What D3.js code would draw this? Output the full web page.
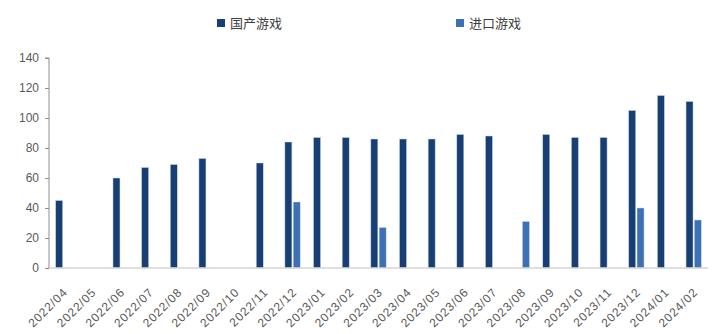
<!DOCTYPE html>
<html>
<head>
<meta charset="utf-8">
<script src="https://cdn.jsdelivr.net/npm/d3@7"></script>
<style>
  html, body { margin: 0; padding: 0; background: #fff; }
  svg { display: block; font-family: "Noto Sans CJK SC", "Liberation Sans", Arial, sans-serif; }
</style>
</head>
<body>
<svg id="chart" width="725" height="334"></svg>
<script>
// Monthly game approvals: domestic vs imported titles
const months = ["2022/04","2022/05","2022/06","2022/07","2022/08","2022/09","2022/10","2022/11","2022/12",
  "2023/01","2023/02","2023/03","2023/04","2023/05","2023/06","2023/07","2023/08","2023/09","2023/10",
  "2023/11","2023/12","2024/01","2024/02"];
const domestic = [45, 0, 60, 67, 69, 73, 0, 70, 84, 87, 87, 86, 86, 86, 89, 88, 0, 89, 87, 87, 105, 115, 111];
const imported = [0, 0, 0, 0, 0, 0, 0, 0, 44, 0, 0, 27, 0, 0, 0, 0, 31, 0, 0, 0, 40, 0, 32];
const seriesNames = ["国产游戏", "进口游戏"];
const yTicks = [0, 20, 40, 60, 80, 100, 120, 140];

const colors = ["#173f74", "#3d70b5"];
const svg = d3.select("#chart");
const margin = { left: 49, right: 17, top: 58, bottom: 66 };
const W = 725, H = 334;

const x = d3.scaleBand().domain(months).range([margin.left, W - margin.right]).paddingInner(0).paddingOuter(0);
const y = d3.scaleLinear().domain([0, 140]).range([H - margin.bottom, margin.top]);

const barW = 7, gap = 1.3;
const groupW = barW * 2 + gap;

const rows = months.map((m, i) => ({ m, vals: [domestic[i], imported[i]] }));

// bars
const g = svg.append("g");
rows.forEach(r => {
  r.vals.forEach((v, k) => {
    if (!v) return;
    const x0 = x(r.m) + x.bandwidth() / 2 - groupW / 2 + k * (barW + gap);
    g.append("rect")
      .attr("x", x0)
      .attr("y", y(v))
      .attr("width", barW)
      .attr("height", y(0) - y(v))
      .attr("fill", colors[k])
      .attr("stroke", "#c9d6e8")
      .attr("stroke-width", 0.5);
  });
});

// x axis baseline
svg.append("line")
  .attr("x1", margin.left).attr("x2", W - margin.right)
  .attr("y1", y(0)).attr("y2", y(0))
  .attr("stroke", "#d4d4d4").attr("stroke-width", 1.5);

// y axis
const yAxis = svg.append("g")
  .attr("transform", `translate(${margin.left},0)`)
  .call(d3.axisLeft(y).tickValues(yTicks).tickSize(4).tickPadding(6));
yAxis.select(".domain").attr("stroke", "#8c8c8c").attr("d", `M-4,${y(140)}H0V${y(0)}`);
yAxis.selectAll(".tick line").attr("stroke", "#8c8c8c");
yAxis.selectAll(".tick text").attr("fill", "#595959").attr("font-size", 12)
  .attr("font-family", "'Liberation Sans', Arial, sans-serif");

// x labels, rotated
svg.append("g").selectAll("text")
  .data(months)
  .join("text")
  .attr("transform", d => `translate(${x(d) + x.bandwidth() / 2 + 2},${y(0) + 22}) rotate(-45)`)
  .attr("text-anchor", "end")
  .attr("dy", "0.35em")
  .attr("font-size", 12)
  .attr("letter-spacing", 0.9)
  .attr("fill", "#595959")
  .attr("font-family", "'Liberation Sans', Arial, sans-serif")
  .text(d => d);

// legend
const legendX = [217, 456];
seriesNames.forEach((name, k) => {
  const lg = svg.append("g").attr("transform", `translate(${legendX[k]},19)`);
  lg.append("rect").attr("width", 8).attr("height", 8).attr("fill", colors[k]);
  lg.append("text").attr("x", 13).attr("y", 4).attr("dy", "0.36em")
    .attr("font-size", 13).attr("fill", "#404040").text(name);
});
</script>
</body>
</html>
